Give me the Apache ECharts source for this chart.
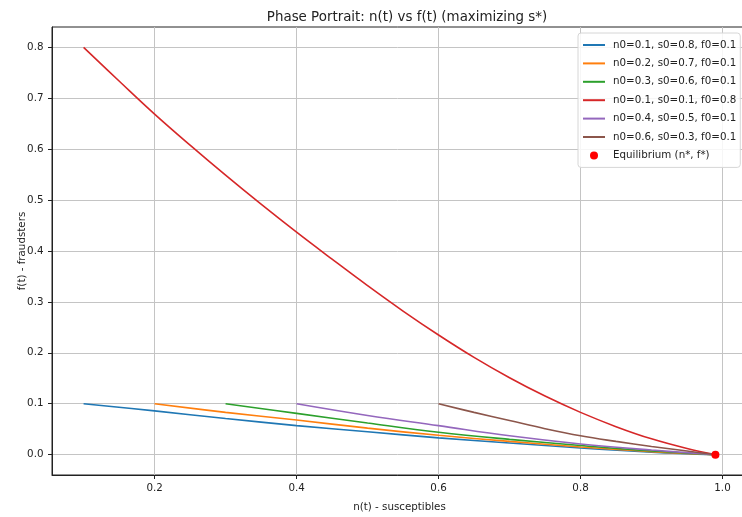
<!DOCTYPE html>
<html>
<head>
<meta charset="utf-8">
<title>Phase Portrait</title>
<script src="https://cdn.jsdelivr.net/npm/echarts@6/dist/echarts.min.js"></script>
<style>
  html, body { margin: 0; padding: 0; background: #fff; }
  #chart { width: 742px; height: 517px; }
</style>
</head>
<body>
<div id="chart"></div>
<script>
// Trajectories in the (n, f) plane, one per initial condition
const seriesNames = [
  'n0=0.1, s0=0.8, f0=0.1',
  'n0=0.2, s0=0.7, f0=0.1',
  'n0=0.3, s0=0.6, f0=0.1',
  'n0=0.1, s0=0.1, f0=0.8',
  'n0=0.4, s0=0.5, f0=0.1',
  'n0=0.6, s0=0.3, f0=0.1'
];
const seriesColors = ['#1f77b4', '#ff7f0e', '#2ca02c', '#d62728', '#9467bd', '#8c564b'];

const n1 = [0.10, 0.20, 0.30, 0.40, 0.50, 0.60, 0.70, 0.80, 0.90, 0.99];
const f1 = [0.100, 0.086, 0.071, 0.057, 0.045, 0.033, 0.023, 0.013, 0.005, 0.000];

const n2 = [0.20, 0.30, 0.40, 0.50, 0.60, 0.70, 0.80, 0.90, 0.99];
const f2 = [0.100, 0.083, 0.068, 0.052, 0.038, 0.026, 0.015, 0.006, 0.000];

const n3 = [0.30, 0.40, 0.50, 0.60, 0.70, 0.80, 0.90, 0.99];
const f3 = [0.100, 0.081, 0.062, 0.044, 0.030, 0.018, 0.007, 0.000];

const n4 = [0.10, 0.15, 0.20, 0.25, 0.30, 0.35, 0.40, 0.45, 0.50, 0.55, 0.60, 0.65, 0.70, 0.75, 0.80, 0.85, 0.90, 0.95, 0.99];
const f4 = [0.800, 0.734, 0.669, 0.608, 0.549, 0.492, 0.437, 0.384, 0.332, 0.282, 0.235, 0.191, 0.151, 0.115, 0.083, 0.055, 0.031, 0.012, 0.000];

const n5 = [0.40, 0.50, 0.60, 0.70, 0.80, 0.90, 0.99];
const f5 = [0.100, 0.077, 0.057, 0.037, 0.021, 0.009, 0.000];

const n6 = [0.60, 0.65, 0.70, 0.75, 0.80, 0.85, 0.90, 0.95, 0.99];
const f6 = [0.100, 0.083, 0.067, 0.051, 0.037, 0.026, 0.016, 0.007, 0.000];

// Equilibrium point
const equilibriumN = [0.99];
const equilibriumF = [0.0];

// Tick labels
const xTicks = [0.2, 0.4, 0.6, 0.8, 1.0];
const yTicks = [0.0, 0.1, 0.2, 0.3, 0.4, 0.5, 0.6, 0.7, 0.8];

const nData = [n1, n2, n3, n4, n5, n6];
const fData = [f1, f2, f3, f4, f5, f6];

const zip = (xs, ys) => xs.map((x, i) => [x, ys[i]]);

const lineSeries = seriesNames.map((name, i) => ({
  name: name,
  type: 'line',
  data: zip(nData[i], fData[i]),
  symbol: 'none',
  smooth: 0.4,
  lineStyle: { color: seriesColors[i], width: 1.6 },
  itemStyle: { color: seriesColors[i] },
  z: 3
}));

const eqName = 'Equilibrium (n*, f*)';

const textColor = '#222';
const font = 'DejaVu Sans';

// Legend entries: plain line handles for the trajectories, a dot for the equilibrium
const legendData = seriesNames.map(name => ({
  name: name,
  itemStyle: { color: 'rgba(0,0,0,0)', borderWidth: 0 }
})).concat([{ name: eqName, icon: 'circle' }]);

const chart = echarts.init(document.getElementById('chart'), null, { renderer: 'canvas' });

chart.setOption({
  animation: false,
  backgroundColor: '#fff',
  title: {
    text: 'Phase Portrait: n(t) vs f(t) (maximizing s*)',
    left: 402,
    top: 6,
    textAlign: 'center',
    textStyle: { fontFamily: font, fontSize: 13.4, fontWeight: 'normal', color: textColor }
  },
  grid: {
    left: 52,
    top: 27,
    width: 695,
    height: 448,
    show: true,
    borderColor: '#222',
    borderWidth: 1,
    containLabel: false,
    outerBoundsMode: 'none'
  },
  legend: {
    orient: 'vertical',
    left: 578,
    top: 33,
    padding: [6, 4, 6, 4],
    itemGap: 6.4,
    itemWidth: 22,
    itemHeight: 8,
    backgroundColor: 'rgba(255,255,255,0.85)',
    borderColor: '#d6d6d6',
    borderWidth: 1,
    borderRadius: 3,
    textStyle: { fontFamily: font, fontSize: 10.3, color: textColor, lineHeight: 12, padding: [0, 0, 0, 3] },
    data: legendData
  },
  xAxis: {
    type: 'value',
    min: 0.0555,
    max: 1.0345,
    name: 'n(t) - susceptibles',
    nameLocation: 'middle',
    nameGap: 27,
    nameMoveOverlap: false,
    nameTextStyle: { fontFamily: font, fontSize: 10.3, color: textColor },
    axisLine: { show: true, onZero: false, lineStyle: { color: '#222', width: 1 } },
    axisTick: { show: true, length: 4, lineStyle: { color: '#222' }, customValues: xTicks },
    axisLabel: {
      customValues: xTicks,
      fontFamily: font, fontSize: 10.3, color: textColor, margin: 8,
      formatter: v => v.toFixed(1)
    },
    splitLine: { show: true, lineStyle: { color: '#c4c4c4', width: 1 } }
  },
  yAxis: {
    type: 'value',
    min: -0.04,
    max: 0.84,
    name: 'f(t) - fraudsters',
    nameLocation: 'middle',
    nameGap: 25,
    nameMoveOverlap: false,
    nameTextStyle: { fontFamily: font, fontSize: 10.3, color: textColor },
    axisLine: { show: true, onZero: false, lineStyle: { color: '#222', width: 1 } },
    axisTick: { show: true, length: 4, lineStyle: { color: '#222' }, customValues: yTicks },
    axisLabel: {
      customValues: yTicks,
      fontFamily: font, fontSize: 10.3, color: textColor, margin: 8.5,
      formatter: v => v.toFixed(1)
    },
    splitLine: { show: true, lineStyle: { color: '#c4c4c4', width: 1 } }
  },
  series: lineSeries.concat([{
    name: eqName,
    type: 'scatter',
    data: zip(equilibriumN, equilibriumF),
    symbol: 'circle',
    symbolSize: 8,
    itemStyle: { color: '#ff0000', opacity: 1 },
    z: 5
  }])
});
</script>
</body>
</html>
